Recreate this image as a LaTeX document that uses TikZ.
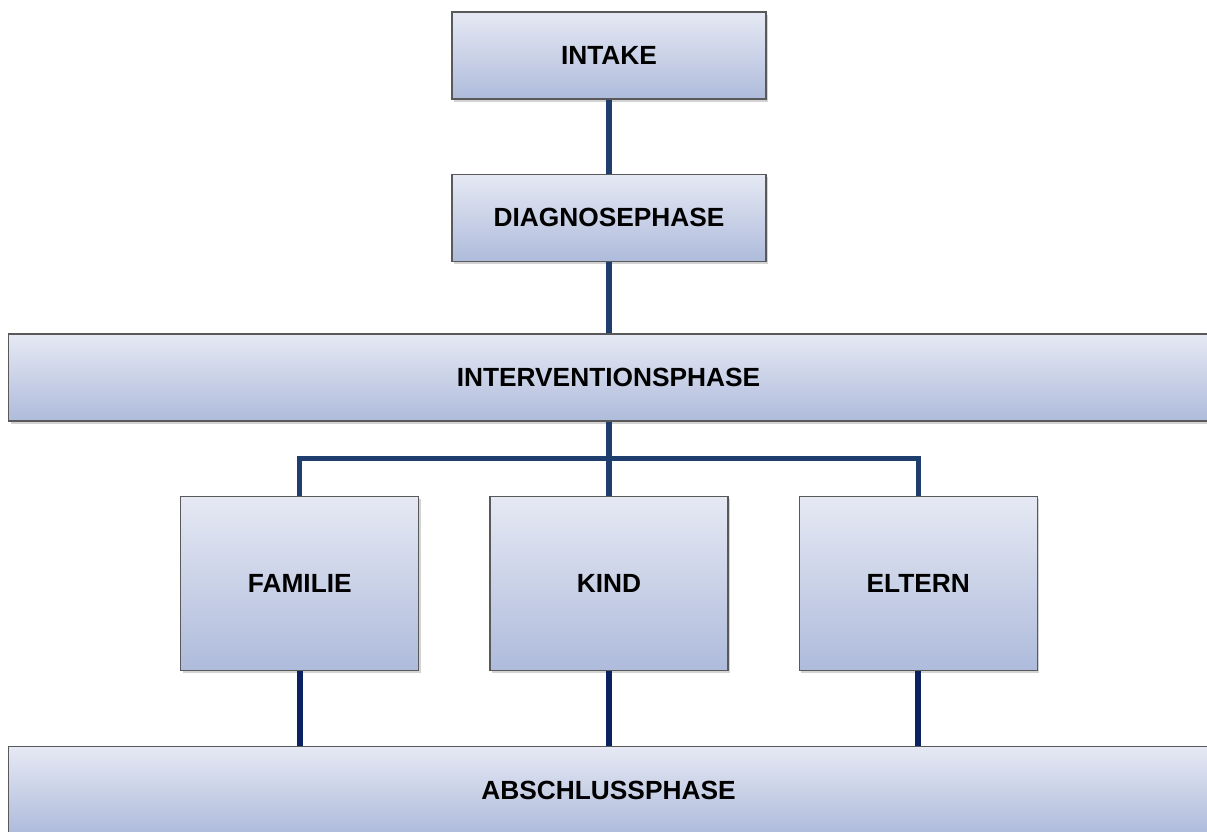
\documentclass[tikz,border=0pt]{standalone}
\usepackage{fontspec}
\setmainfont{Liberation Sans}
\usepackage{xcolor}
\usetikzlibrary{positioning,shadows}

\definecolor{boxtop}{RGB}{230,233,244}
\definecolor{boxbot}{RGB}{174,187,219}
\definecolor{linkup}{RGB}{31,62,110}
\definecolor{linkdown}{RGB}{10,34,96}

\tikzset{
  phase/.style={draw=black!65, line width=0.8pt, inner sep=0pt,
    top color=boxtop, bottom color=boxbot,
    font=\fontsize{18.7}{22}\selectfont\bfseries,
    drop shadow={opacity=0.35, shadow xshift=1.5pt, shadow yshift=-2pt}},
  stepbox/.style={phase, minimum width=7.85cm, minimum height=2.175cm},
  widebox/.style={phase, minimum width=29.975cm, minimum height=2.175cm},
  partbox/.style={phase, minimum width=5.95cm, minimum height=4.35cm},
  linkA/.style={draw=linkup, line width=3.6pt},
  linkB/.style={draw=linkdown, line width=4.2pt}
}

\begin{document}
\begin{tikzpicture}[x=0.025cm, y=-0.025cm]
\useasboundingbox (0,0) rectangle (1207,832);
\clip (0,0) rectangle (1207,832);
% phases
\node[stepbox] (intake) at (609,55.5) {INTAKE};
\node[stepbox, below=1.85cm of intake] (diag) {DIAGNOSEPHASE};
\node[widebox] (interv) at (608.5,377.5) {INTERVENTIONSPHASE};
\node[partbox, below=1.85cm of interv.south -| diag.south, anchor=north] (kind) {KIND};
\node[partbox, left=1.75cm of kind] (fam) {FAMILIE};
\node[partbox, right=1.75cm of kind] (elt) {ELTERN};
\node[widebox, anchor=north] (absch) at (608.5,746) {ABSCHLUSSPHASE};
% connectors
\path (interv.south) -- (kind.north) coordinate[midway] (bus);
\draw[linkA] (intake) -- (diag);
\draw[linkA] (diag) -- (diag |- interv.north);
\draw[linkA] (interv.south -| kind.north) -- (kind.north);
\draw[linkA] (fam.north) |- (bus) -| (elt.north);
\foreach \n in {fam,kind,elt}
  \draw[linkB] (\n.south) -- (\n.south |- absch.north);
\end{tikzpicture}
\end{document}
